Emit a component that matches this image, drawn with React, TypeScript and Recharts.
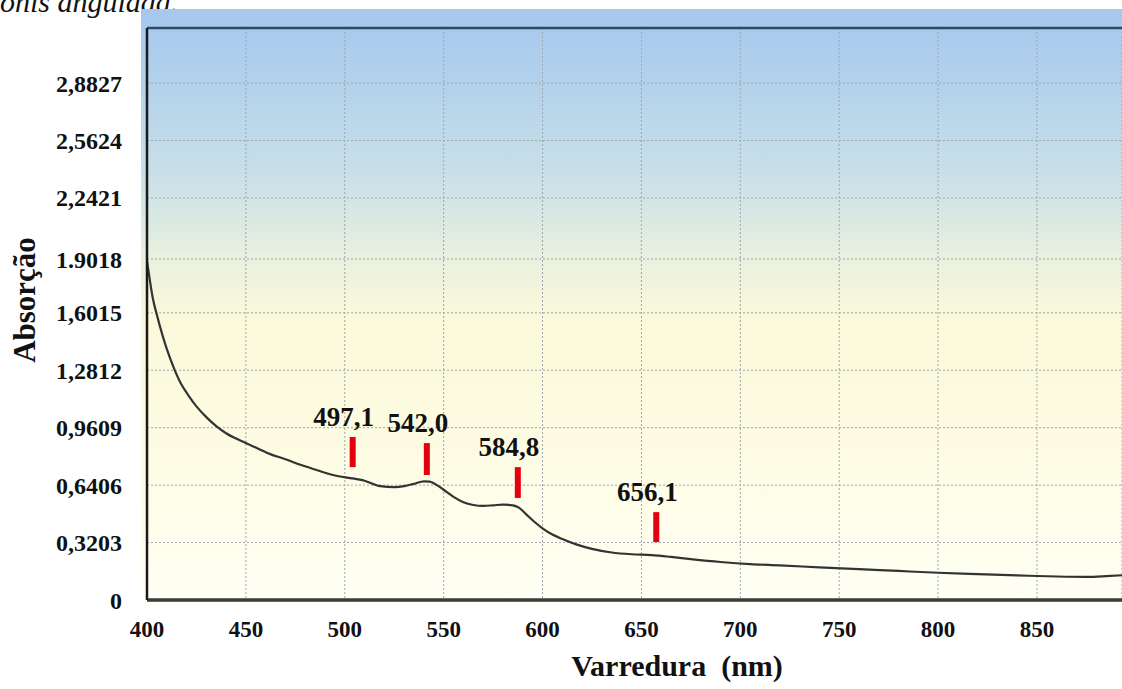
import React from "react";
import {
  ComposedChart,
  Line,
  XAxis,
  YAxis,
  CartesianGrid,
  ReferenceLine,
} from "recharts";

// espectro (nm / absorção)
const wavelengths = [
  400, 401.5, 403, 405, 408, 410, 413, 417, 421, 425, 430, 435, 440, 448, 455,
  462, 470, 476, 483, 490, 497, 503, 510, 518, 525, 530, 535, 540, 543, 546,
  550, 555, 560, 565, 570, 575, 580, 585, 588, 592, 596, 600, 605, 610, 617,
  625, 635, 645, 655, 665, 675, 690, 705, 720, 740, 760, 780, 800, 820, 840,
  860, 875, 885, 893,
];
const absorbance = [
  1.89, 1.78, 1.68, 1.59, 1.47, 1.4, 1.31, 1.21, 1.14, 1.08, 1.02, 0.97, 0.93,
  0.885, 0.85, 0.815, 0.785, 0.76, 0.735, 0.71, 0.69, 0.68, 0.665, 0.635, 0.63,
  0.635, 0.648, 0.662, 0.66, 0.645, 0.615, 0.575, 0.545, 0.53, 0.525, 0.528,
  0.532, 0.528, 0.515, 0.475, 0.435, 0.4, 0.365, 0.34, 0.31, 0.285, 0.265,
  0.255, 0.25, 0.24, 0.228, 0.212, 0.2, 0.193, 0.182, 0.172, 0.162, 0.152,
  0.144, 0.137, 0.131, 0.129, 0.133, 0.138,
];

const xTicks = [400, 450, 500, 550, 600, 650, 700, 750, 800, 850];
const yTicks = [
  0, 0.3203, 0.6406, 0.9609, 1.2812, 1.6015, 1.9018, 2.2421, 2.5624, 2.8827,
];
const yTickLabels = [
  "0", "0,3203", "0,6406", "0,9609", "1,2812", "1,6015", "1.9018", "2,2421",
  "2,5624", "2,8827",
];

// picos marcados: texto e posição das barras vermelhas no gráfico
const peakLabels = ["497,1", "542,0", "584,8", "656,1"];
const markerX = [504, 541.5, 587.5, 657.5];
const markerLow = [0.741, 0.697, 0.569, 0.323];
const markerHigh = [0.909, 0.875, 0.741, 0.49];

const X_MAX = 893;
const Y_MAX = 3.19;

const data = wavelengths.map((wl, i) => ({ wl, a: absorbance[i] }));

const serif = "'Liberation Serif', 'Times New Roman', serif";

function PeakLabel(props: any) {
  const vb = props.viewBox || {};
  const x = (vb.x ?? 0) + (vb.width ?? 0) / 2 - 9;
  const y = (vb.y ?? 0) - 11;
  return (
    <text
      x={x}
      y={y}
      textAnchor="middle"
      fontFamily={serif}
      fontWeight={700}
      fontSize={27}
      fill="#111"
    >
      {props.text}
    </text>
  );
}

export default function App() {
  return (
    <div
      style={{
        position: "fixed",
        left: 0,
        top: 0,
        width: 1122,
        height: 689,
        overflow: "hidden",
        background: "#fff",
      }}
    >
      <div
        style={{
          position: "absolute",
          left: 0,
          top: -13,
          fontFamily: serif,
          fontStyle: "italic",
          fontSize: 30,
          lineHeight: "30px",
          color: "#111",
          whiteSpace: "nowrap",
        }}
      >
        ônis angulada.
      </div>
      <div
        style={{
          position: "absolute",
          left: 141,
          top: 9,
          width: 981,
          height: 597,
          background:
            "linear-gradient(to bottom, #a6c8ee 0%, #b1d1eb 12%, #cde2e7 30%, #e8f0df 41%, #fbf9da 52%, #fdfce3 74%, #fffff5 100%)",
        }}
      />
      <div style={{ position: "absolute", left: 0, top: 0 }}>
        <ComposedChart
          width={1122}
          height={689}
          data={data}
          margin={{ top: 28, right: 0, bottom: 59, left: 47 }}
        >
          <CartesianGrid stroke="#9ea6ae" strokeDasharray="2 2" />
          <XAxis
            dataKey="wl"
            type="number"
            domain={[400, X_MAX]}
            ticks={xTicks}
            interval={0}
            allowDataOverflow
            height={30}
            tickLine={false}
            tickSize={0}
            tickMargin={21}
            axisLine={{ stroke: "#3a3a3a", strokeWidth: 3.5 }}
            tick={{
              fill: "#111",
              fontSize: 23,
              fontWeight: 700,
              fontFamily: serif,
            }}
          />
          <YAxis
            type="number"
            domain={[0, Y_MAX]}
            ticks={yTicks}
            interval={0}
            allowDataOverflow
            width={100}
            tickLine={false}
            tickSize={0}
            tickMargin={25}
            axisLine={{ stroke: "#1a1a1a", strokeWidth: 2.5 }}
            tickFormatter={(v: number) => {
              const i = yTicks.indexOf(v);
              return i >= 0 ? yTickLabels[i] : String(v);
            }}
            tick={{
              fill: "#111",
              fontSize: 24,
              fontWeight: 700,
              fontFamily: serif,
            }}
          />
          <ReferenceLine y={Y_MAX} stroke="#2f4a68" strokeWidth={2.5} />
          <Line
            type="monotone"
            dataKey="a"
            stroke="#333"
            strokeWidth={2.2}
            dot={false}
            activeDot={false}
            isAnimationActive={false}
          />
          {markerX.map((mx, i) => (
            <ReferenceLine
              key={peakLabels[i]}
              segment={[
                { x: mx, y: markerLow[i] },
                { x: mx, y: markerHigh[i] },
              ]}
              stroke="#e3000f"
              strokeWidth={6}
              label={<PeakLabel text={peakLabels[i]} />}
            />
          ))}
        </ComposedChart>
      </div>
      <div
        style={{
          position: "absolute",
          left: 477,
          width: 400,
          top: 648,
          textAlign: "center",
          fontFamily: serif,
          fontWeight: 700,
          fontSize: 30,
          lineHeight: "36px",
          color: "#111",
          whiteSpace: "pre",
        }}
      >
        Varredura  (nm)
      </div>
      <div
        style={{
          position: "absolute",
          left: 25,
          top: 300,
          transform: "translate(-50%, -50%) rotate(-90deg)",
          fontFamily: serif,
          fontWeight: 700,
          fontSize: 31,
          lineHeight: "32px",
          color: "#111",
          whiteSpace: "nowrap",
        }}
      >
        Absorção
      </div>
    </div>
  );
}
